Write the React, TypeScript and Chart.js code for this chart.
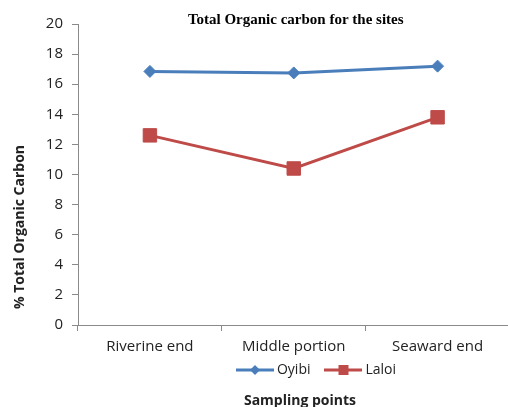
import React, { useEffect, useRef } from 'react';
import { Chart, registerables } from 'chart.js';

Chart.register(...registerables);

const categories = ['Riverine end', 'Middle portion', 'Seaward end'];
const oyibiValues = [16.85, 16.75, 17.2];
const laloiValues = [12.6, 10.4, 13.8];
const seriesNames = ['Oyibi', 'Laloi'];
const yMin = 0;
const yMax = 20;
const yStep = 2;
const chartTitle = 'Total Organic carbon for the sites';
const yTitle = '% Total Organic Carbon';
const xTitle = 'Sampling points';

const BLUE = '#4A7EBB';
const RED = '#BE4B48';
const AXIS = '#8a8a8a';
const TEXT = '#222222';
const SANS = '"Open Sans", "DejaVu Sans", sans-serif';

function makeLegendIcon(color: string, shape: 'diamond' | 'square'): HTMLCanvasElement {
  const c = document.createElement('canvas');
  c.width = 38;
  c.height = 14;
  const ctx = c.getContext('2d')!;
  ctx.strokeStyle = color;
  ctx.lineWidth = 3;
  ctx.beginPath();
  ctx.moveTo(0, 7);
  ctx.lineTo(38, 7);
  ctx.stroke();
  ctx.fillStyle = color;
  ctx.beginPath();
  if (shape === 'diamond') {
    ctx.moveTo(19, 2);
    ctx.lineTo(24, 7);
    ctx.lineTo(19, 12);
    ctx.lineTo(14, 7);
    ctx.closePath();
  } else {
    ctx.rect(14, 2, 10, 10);
  }
  ctx.fill();
  return c;
}

const titlesPlugin = {
  id: 'customTitles',
  afterLayout(chart: any) {
    const lg = chart.legend;
    if (lg) {
      lg.left += 59;
      lg.right += 59;
      lg.top -= 14;
      lg.bottom -= 14;
    }
  },
  afterDraw(chart: any) {
    const { ctx, chartArea } = chart;
    ctx.save();
    ctx.fillStyle = '#000';
    ctx.textAlign = 'center';
    ctx.textBaseline = 'middle';
    ctx.font = 'bold 15px "Liberation Serif", "Times New Roman", serif';
    ctx.fillText(chartTitle, (chartArea.left + chartArea.right) / 2 + 2, 20);
    ctx.fillStyle = TEXT;
    ctx.font = `bold 14px ${SANS}`;
    ctx.fillText(xTitle, 300, 401);
    ctx.translate(20, 227);
    ctx.rotate(-Math.PI / 2);
    ctx.fillText(yTitle, 0, 0);
    ctx.restore();
  },
};

export default function App() {
  const canvasRef = useRef<HTMLCanvasElement | null>(null);

  useEffect(() => {
    document.body.style.margin = '0';
    const canvas = canvasRef.current;
    if (!canvas) return;
    const icons = [makeLegendIcon(BLUE, 'diamond'), makeLegendIcon(RED, 'square')];
    const chart = new Chart(canvas, {
      type: 'line',
      data: {
        labels: categories,
        datasets: [
          {
            label: seriesNames[0],
            data: oyibiValues,
            borderColor: BLUE,
            backgroundColor: BLUE,
            borderWidth: 3,
            pointStyle: 'rectRot',
            pointRadius: 6,
            pointBorderWidth: 1,
            pointBorderColor: BLUE,
            pointBackgroundColor: BLUE,
            tension: 0,
          },
          {
            label: seriesNames[1],
            data: laloiValues,
            borderColor: RED,
            backgroundColor: RED,
            borderWidth: 3,
            pointStyle: 'rect',
            pointRadius: 9.5,
            pointBorderWidth: 1,
            pointBorderColor: RED,
            pointBackgroundColor: RED,
            tension: 0,
          },
        ],
      },
      options: {
        responsive: false,
        animation: false,
        devicePixelRatio: 1,
        layout: { padding: { top: 24, right: 2, bottom: 6, left: 0 } },
        plugins: {
          title: { display: false },
          tooltip: { enabled: false },
          legend: {
            display: true,
            position: 'bottom',
            labels: {
              usePointStyle: true,
              pointStyleWidth: 30,
              boxHeight: 14,
              padding: 18,
              color: TEXT,
              font: { family: SANS, size: 14 },
              generateLabels: (c: any) =>
                c.data.datasets.map((ds: any, i: number) => ({
                  text: ds.label,
                  pointStyle: icons[i],
                  fillStyle: ds.borderColor,
                  strokeStyle: ds.borderColor,
                  lineWidth: 0,
                  hidden: false,
                  datasetIndex: i,
                  fontColor: TEXT,
                })),
            },
          },
        },
        scales: {
          x: {
            type: 'category',
            offset: true,
            grid: {
              offset: true,
              drawOnChartArea: false,
              drawTicks: true,
              tickLength: 6,
              color: AXIS,
            },
            border: { display: true, color: AXIS, width: 1 },
            ticks: { color: TEXT, font: { family: SANS, size: 15 }, padding: 7, maxRotation: 0 },
            afterFit: (scale: any) => {
              scale.height = 34;
            },
          },
          y: {
            min: yMin,
            max: yMax,
            grid: {
              drawOnChartArea: false,
              drawTicks: true,
              tickLength: 6,
              color: AXIS,
            },
            border: { display: true, color: AXIS, width: 1 },
            ticks: { stepSize: yStep, color: TEXT, font: { family: SANS, size: 15 }, padding: 9 },
            afterFit: (scale: any) => {
              scale.width = 78;
            },
          },
        },
      },
      plugins: [titlesPlugin],
    });
    return () => chart.destroy();
  }, []);

  return (
    <div style={{ width: 508, height: 407, overflow: 'hidden', position: 'relative', background: '#fff' }}>
      <canvas ref={canvasRef} width={520} height={407} style={{ display: 'block' }} />
    </div>
  );
}
